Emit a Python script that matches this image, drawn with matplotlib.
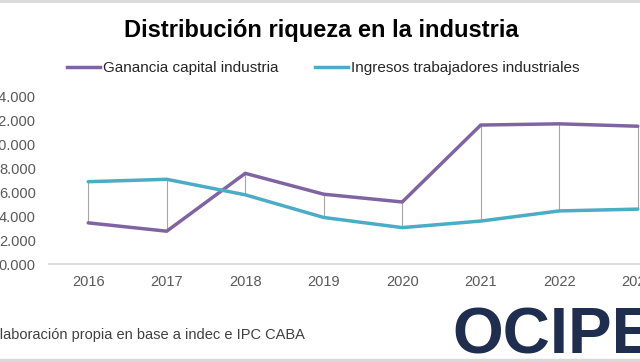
import numpy as np
import matplotlib.pyplot as plt
from matplotlib.lines import Line2D

# datos
years = ["2016", "2017", "2018", "2019", "2020", "2021", "2022", "2023"]
ganancia = [3450, 2750, 7600, 5850, 5200, 11650, 11750, 11550]
ingresos = [6900, 7100, 5800, 3900, 3050, 3600, 4450, 4600]
y_ticks = [0, 2000, 4000, 6000, 8000, 10000, 12000, 14000]

purple = "#8064A2"
teal = "#4BACC6"
gray_txt = "#595959"

plt.rcParams['font.family'] = ['Liberation Sans', 'DejaVu Sans']

fig = plt.figure(figsize=(6.4, 3.62), dpi=100)
ax = fig.add_axes([49 / 640, 1 - 264 / 362, 628 / 640, 167 / 362])

x = np.arange(len(years))
lo = np.minimum(ganancia, ingresos)
hi = np.maximum(ganancia, ingresos)
ax.vlines(x, lo, hi, color="#a6a6a6", lw=0.8, zorder=1)
ax.plot(x, ganancia, color=purple, lw=2.5, solid_capstyle='round', zorder=3)
ax.plot(x, ingresos, color=teal, lw=2.5, solid_capstyle='round', zorder=3)

ax.set_xlim(-0.5, len(years) - 0.5)
ax.set_ylim(0, 14000)
ax.set_xticks(x)
ax.set_xticklabels(years)
ax.set_yticks(y_ticks)
ax.set_yticklabels([f"{v / 1000:.3f}" for v in y_ticks])
ax.tick_params(axis='both', length=0, colors=gray_txt, labelsize=10.5)
ax.tick_params(axis='y', pad=9.5)
ax.tick_params(axis='x', pad=8)
for s in ['top', 'right', 'left']:
    ax.spines[s].set_visible(False)
ax.spines['bottom'].set_color("#d9d9d9")
ax.spines['bottom'].set_linewidth(1.3)

fig.text(321 / 640, 1 - 31 / 362, "Distribución riqueza en la industria",
         ha='center', va='center', fontsize=17, fontweight='bold', color='black')

handles = [Line2D([], [], color=purple, lw=2.5),
           Line2D([], [], color=teal, lw=2.5)]
fig.legend(handles, ["Ganancia capital industria", "Ingresos trabajadores industriales"],
           loc='center', bbox_to_anchor=(323 / 640, 1 - 68 / 362), ncol=2, frameon=False,
           fontsize=11, handlelength=2.2, handletextpad=0.15, columnspacing=2.4,
           labelcolor='#262626')

fig.text(-10 / 640, 1 - 335 / 362, "Elaboración propia en base a indec e IPC CABA",
         ha='left', va='center', fontsize=10.5, color='#404040')

fig.text(452 / 640, 1 - 337 / 362, "OCIPE", ha='left', va='center',
         fontsize=47, fontweight='bold', color="#1f2d4e")

# bordes grises arriba y abajo
fig.add_artist(Line2D([0, 1], [1 - 1 / 362, 1 - 1 / 362], color="#d9d9d9", lw=2))
fig.add_artist(Line2D([0, 1], [2 / 362, 2 / 362], color="#d9d9d9", lw=2.5))

fig.savefig("out.png", dpi=100)
